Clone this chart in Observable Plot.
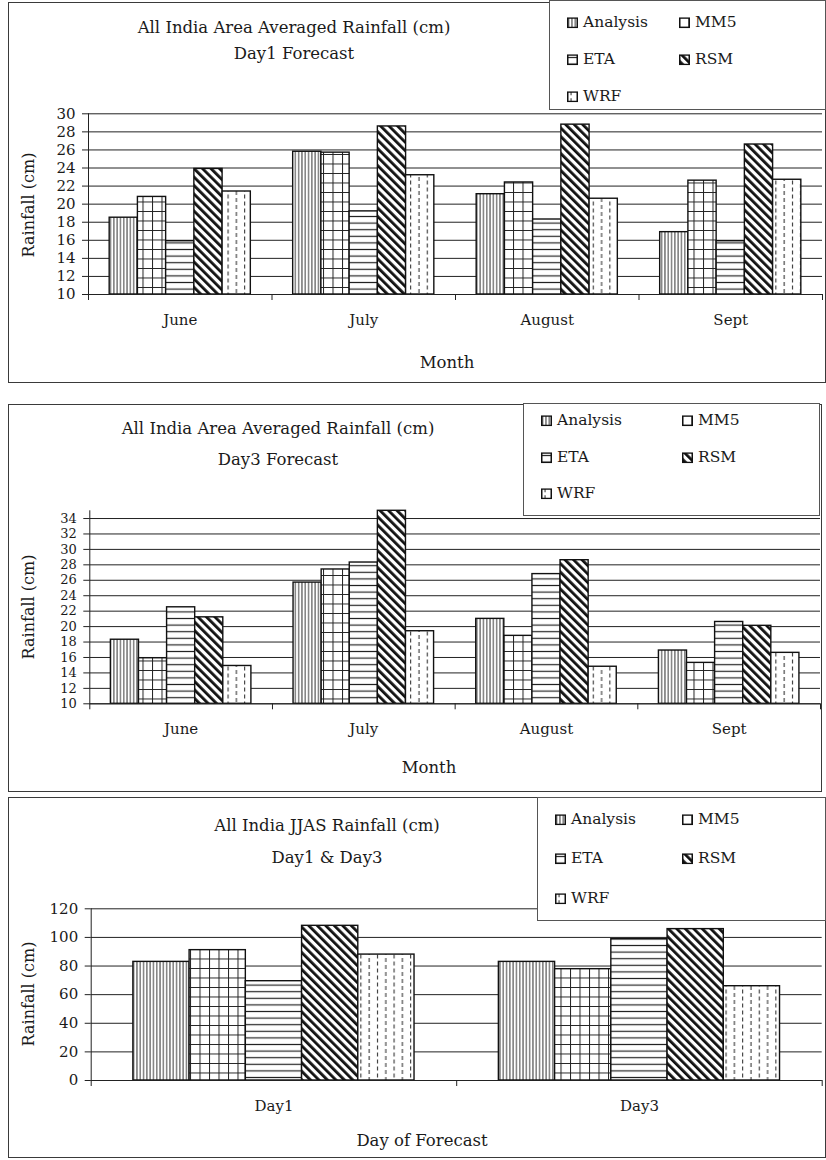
<!DOCTYPE html>
<html>
<head>
<meta charset="utf-8">
<script src="https://cdn.jsdelivr.net/npm/d3@7"></script>
<script src="https://cdn.jsdelivr.net/npm/@observablehq/plot@0.6"></script>
<style>
  body { margin: 0; background: #fff; }
  #page { position: relative; width: 826px; height: 1160px; overflow: hidden;
          font-family: "DejaVu Serif", serif; color: #1a1a1a; background: #fff; }
  .panel { position: absolute; border: 1.5px solid #3a3a3a; box-sizing: border-box; }
  .chart { position: absolute; left: 0; }
  .legend { position: absolute; border: 1px solid #555; background: #fff; box-sizing: border-box; }
  .item { position: absolute; font-size: 15.5px; line-height: 1; display: flex; align-items: center;
          white-space: nowrap; transform: translateY(-50%); }
  .item svg { margin-right: 5px; }
  .title { position: absolute; font-size: 16.5px; transform: translate(-50%, -50%); white-space: nowrap; }
  .ytitle { position: absolute; font-size: 16px; transform: translate(-50%, -50%) rotate(-90deg); white-space: nowrap; }
</style>
</head>
<body>
<!-- hatch fills shared by the bars and the legend keys -->
<svg width="0" height="0" style="position:absolute">
  <defs>
    <pattern id="pat-analysis" patternUnits="userSpaceOnUse" width="3.3" height="10">
      <rect width="3.3" height="10" fill="#fff"/>
      <line x1="1.65" y1="0" x2="1.65" y2="10" stroke="#222" stroke-width="0.9"/>
    </pattern>
    <pattern id="pat-mm5" patternUnits="userSpaceOnUse" width="9.5" height="9.5">
      <rect width="9.5" height="9.5" fill="#fff"/>
      <path d="M0 0.5H9.5M0.5 0V9.5" stroke="#222" stroke-width="1"/>
    </pattern>
    <pattern id="pat-eta" patternUnits="userSpaceOnUse" width="10" height="6.6">
      <rect width="10" height="6.6" fill="#fff"/>
      <line x1="0" y1="3.3" x2="10" y2="3.3" stroke="#222" stroke-width="1.2"/>
    </pattern>
    <pattern id="pat-rsm" patternUnits="userSpaceOnUse" width="6" height="6" patternTransform="rotate(-45)">
      <rect width="6" height="6" fill="#fff"/>
      <rect width="2.8" height="6" fill="#111"/>
    </pattern>
    <pattern id="pat-wrf" patternUnits="userSpaceOnUse" width="16.6" height="7">
      <rect width="16.6" height="7" fill="#fff"/>
      <path d="M4 0V4M12.3 3.5V7M12.3 0V0.5" stroke="#222" stroke-width="1"/>
    </pattern>
  </defs>
</svg>
<div id="page"></div>
<script>
// Models compared in every panel (legend order)
const models = ["Analysis", "MM5", "ETA", "RSM", "WRF"];
const modelIds = ["analysis", "mm5", "eta", "rsm", "wrf"];

// Monthly all-India area averaged rainfall (cm)
const months = ["June", "July", "August", "Sept"];

// Day 1 forecast
const day1Analysis = [18.5, 25.8, 21.1, 16.9];
const day1MM5      = [20.8, 25.7, 22.4, 22.6];
const day1ETA      = [15.9, 19.2, 18.3, 15.9];
const day1RSM      = [23.9, 28.6, 28.8, 26.6];
const day1WRF      = [21.4, 23.2, 20.6, 22.7];

// Day 3 forecast
const day3Analysis = [18.3, 25.7, 21.0, 16.9];
const day3MM5      = [15.9, 27.4, 18.8, 15.3];
const day3ETA      = [22.5, 28.3, 26.8, 20.6];
const day3RSM      = [21.2, 35.9, 28.6, 20.1];
const day3WRF      = [14.9, 19.4, 14.8, 16.6];

// JJAS seasonal totals (cm)
const forecastDays = ["Day1", "Day3"];
const jjasAnalysis = [82.9, 82.9];
const jjasMM5      = [91.1, 77.8];
const jjasETA      = [69.4, 98.8];
const jjasRSM      = [108.1, 105.8];
const jjasWRF      = [88.0, 65.9];

// Axis tick values
const ticksDay1 = d3.range(10, 31, 2);
const ticksDay3 = d3.range(10, 35, 2);
const ticksJJAS = d3.range(0, 121, 20);

const page = document.getElementById("page");

function el(cls, style, text) {
  const d = document.createElement("div");
  d.className = cls;
  Object.assign(d.style, style);
  if (text != null) d.textContent = text;
  page.appendChild(d);
  return d;
}

function chart({top, height, margin, categories, series, yDomain, yTicks, yFontSize = 15}) {
  const n = categories.length;
  const gapWidth = 1.5;                    // gap between groups, in bar widths
  const slots = series.length + gapWidth;
  const base = yDomain[0];
  const marks = [Plot.gridY(yTicks, {stroke: "#222", strokeOpacity: 1, strokeWidth: 1})];
  series.forEach((values, j) => {
    const rows = categories.map((c, i) => ({i, value: values[i]}));
    marks.push(Plot.rect(rows, {
      x1: d => d.i + (gapWidth / 2 + j) / slots,
      x2: d => d.i + (gapWidth / 2 + j + 1) / slots,
      y1: () => base,
      y2: "value",
      fill: `url(#pat-${modelIds[j]})`,
      stroke: "#111",
      strokeWidth: 1.4
    }));
  });
  marks.push(
    Plot.ruleX([0], {stroke: "#222", strokeWidth: 1}),
    Plot.ruleY([base], {stroke: "#222", strokeWidth: 1}),
    Plot.axisY(yTicks, {tickSize: 6, tickPadding: 7, label: null, stroke: "#222", fontSize: yFontSize}),
    Plot.axisX(d3.range(n + 1), {tickSize: 6, tickFormat: () => "", label: null, stroke: "#222"}),
    Plot.axisX(d3.range(n).map(i => i + 0.5), {
      tickSize: 0, tickPadding: 20, label: null,
      tickFormat: d => categories[Math.floor(d)]
    })
  );
  const svg = Plot.plot({
    width: 826,
    height,
    marginTop: margin[0], marginRight: margin[1], marginBottom: margin[2], marginLeft: margin[3],
    x: {domain: [0, n]},
    y: {domain: yDomain, clamp: true},
    style: {fontFamily: "DejaVu Serif", fontSize: "15px", color: "#1a1a1a", background: "transparent", overflow: "visible"},
    marks
  });
  svg.classList.add("chart");
  svg.style.top = top + "px";
  page.appendChild(svg);
}

function legend(box, col2, rows) {
  el("legend", {left: box[0] + "px", top: box[1] + "px", width: (box[2] - box[0]) + "px", height: (box[3] - box[1]) + "px"});
  const spots = [[box[0] + 18, rows[0]], [col2, rows[0]], [box[0] + 18, rows[1]], [col2, rows[1]], [box[0] + 18, rows[2]]];
  models.forEach((m, j) => {
    const it = el("item", {left: spots[j][0] + "px", top: spots[j][1] + "px"});
    it.innerHTML = `<svg width="11" height="11"><rect x="0.75" y="0.75" width="9.5" height="9.5" fill="url(#pat-${modelIds[j]})" stroke="#111" stroke-width="1.5"/></svg>`;
    it.appendChild(document.createTextNode(m));
  });
}

function panel({box, titles, titleX, titleY, yTitleY, xTitle, xTitleX, xTitleY}) {
  el("panel", {left: box[0] + "px", top: box[1] + "px", width: (box[2] - box[0]) + "px", height: (box[3] - box[1]) + "px"});
  titles.forEach((t, k) => el("title", {left: titleX + "px", top: titleY[k] + "px"}, t));
  el("ytitle", {left: "28px", top: yTitleY + "px"}, "Rainfall (cm)");
  el("title", {left: xTitleX + "px", top: xTitleY + "px"}, xTitle);
}

// Panel 1: Day 1 monthly
panel({box: [8, 2, 826, 383], titles: ["All India Area Averaged Rainfall (cm)", "Day1 Forecast"],
       titleX: 294, titleY: [27, 53], yTitleY: 205, xTitle: "Month", xTitleX: 447, xTitleY: 362});
chart({top: 2, height: 381, margin: [111.3, 4, 89, 88], categories: months,
       series: [day1Analysis, day1MM5, day1ETA, day1RSM, day1WRF], yDomain: [10, 30], yTicks: ticksDay1});
legend([549, 0, 826, 110], 679, [23, 60, 97]);

// Panel 2: Day 3 monthly (tick labels set tighter to fit the 2 cm spacing)
panel({box: [8, 404, 822, 792], titles: ["All India Area Averaged Rainfall (cm)", "Day3 Forecast"],
       titleX: 278, titleY: [428, 459], yTitleY: 607, xTitle: "Month", xTitleX: 429, xTitleY: 767});
chart({top: 404, height: 388, margin: [106.3, 6, 88.7, 89.3], categories: months,
       series: [day3Analysis, day3MM5, day3ETA, day3RSM, day3WRF], yDomain: [10, 35], yTicks: ticksDay3,
       yFontSize: 13});
legend([523, 403, 820, 516], 682, [421, 458, 494]);

// Panel 3: JJAS totals
panel({box: [8, 797, 826, 1158], titles: ["All India JJAS Rainfall (cm)", "Day1 & Day3"],
       titleX: 327, titleY: [825, 857], yTitleY: 994, xTitle: "Day of Forecast", xTitleX: 422, xTitleY: 1140});
chart({top: 797, height: 361, margin: [111.3, 4.3, 78, 90.7], categories: forecastDays,
       series: [jjasAnalysis, jjasMM5, jjasETA, jjasRSM, jjasWRF], yDomain: [0, 120], yTicks: ticksJJAS});
legend([537, 797, 826, 921], 682, [820, 859, 899]);
</script>
</body>
</html>
